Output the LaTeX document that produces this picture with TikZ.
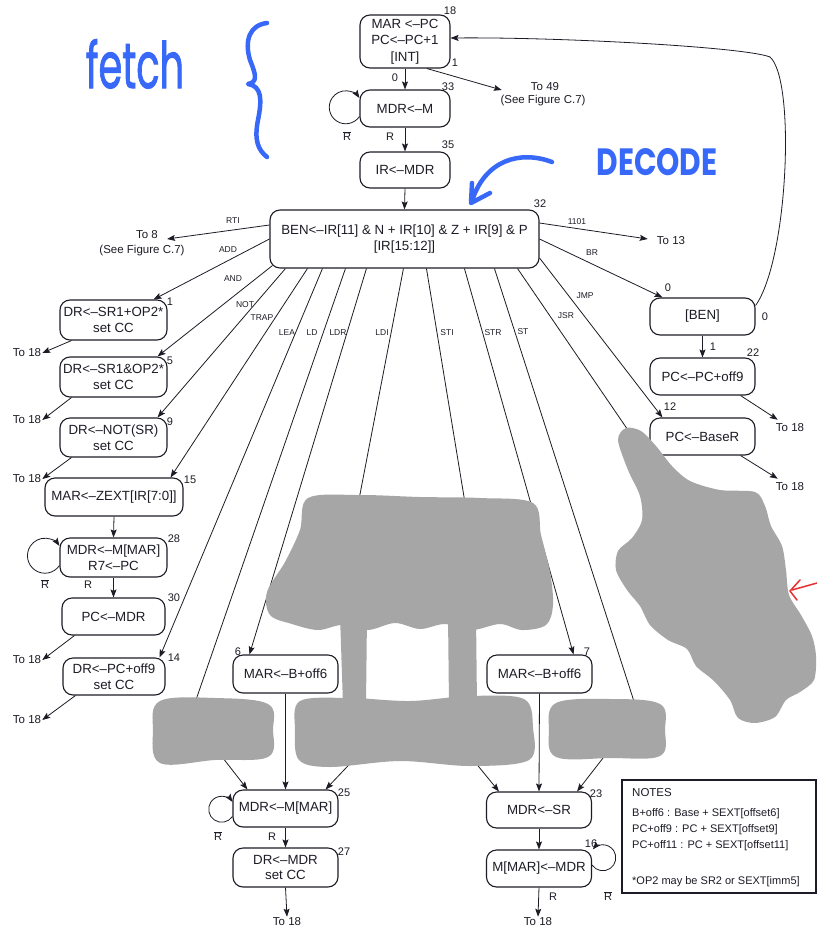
\documentclass[tikz,border=0pt]{standalone}
\usepackage{fontspec}
\usepackage{graphicx}
\setmainfont{Liberation Sans}
\newfontfamily\handfont{Poppins}
\newfontfamily\handfontheavy{Poppins}[FakeBold=1.6]
\usetikzlibrary{arrows.meta,calc}
\definecolor{ink}{RGB}{28,28,38}
\definecolor{smudge}{RGB}{166,166,166}
\definecolor{marker}{RGB}{56,104,248}
\definecolor{redpen}{RGB}{232,48,48}
\tikzset{
  state/.style={draw=ink, line width=1.1pt, rounded corners=10pt, fill=white,
    align=center, inner sep=0pt, text=ink,
    font=\fontsize{13.3}{15.5}\selectfont},
  conn/.style={draw=ink, line width=0.8pt},
  arr/.style={conn, -{Stealth[length=8pt,width=6pt,inset=1.5pt]}},
  num/.style={inner sep=0pt, text=ink, font=\fontsize{11}{11}\selectfont},
  tag/.style={inner sep=0pt, text=ink, font=\fontsize{8.5}{8.5}\selectfont},
  dest/.style={inner sep=1pt, text=ink, font=\fontsize{11.5}{12}\selectfont},
  note/.style={inner sep=0pt, anchor=west, text=ink, font=\fontsize{11}{11}\selectfont},
  smear/.style={fill=smudge, draw=none},
  pen/.style={draw=marker, line width=4.5pt, line cap=round, line join=round},
}
\newcommand{\notR}{$\overline{\mbox{R}}$}
\begin{document}
\begin{tikzpicture}[x=1pt,y=1pt]
\useasboundingbox (0,0) rectangle (817,-930);
\fill[white] (0,0) rectangle (817,-930);

% ---------- fetch and decode states ----------
\node[state, minimum width=90pt, minimum height=53pt, font=\fontsize{13.3}{16.5}\selectfont] (n18) at (405,-41.5) {MAR <--PC\\PC<--PC+1\\{[INT]}};
\node[state, minimum width=90pt, minimum height=37pt] (n33) at (405,-108.5) {MDR<--M};
\node[state, minimum width=90pt, minimum height=36pt] (n35) at (405,-170) {IR<--MDR};
\node[state, minimum width=269pt, minimum height=58pt, font=\fontsize{13.3}{16}\selectfont] (n32) at (404.5,-239) {BEN<--IR[11] \& N + IR[10] \& Z + IR[9] \& P\\{[IR[15:12]]}};

% ---------- left column ----------
\node[state, minimum width=107pt, minimum height=40pt] (n1) at (113.5,-320) {DR<--SR1+OP2*\\set CC};
\node[state, minimum width=107pt, minimum height=40pt] (n5) at (113.5,-377) {DR<--SR1\&OP2*\\set CC};
\node[state, minimum width=107pt, minimum height=39pt] (n9) at (113.5,-437.5) {DR<--NOT(SR)\\set CC};
\node[state, minimum width=138pt, minimum height=38pt] (n15) at (114,-497) {MAR<--ZEXT[IR[7:0]]};
\node[state, minimum width=107pt, minimum height=39pt] (n28) at (113.5,-557.5) {MDR<--M[MAR]\\R7<--PC};
\node[state, minimum width=103pt, minimum height=37pt] (n30) at (113.5,-616.5) {PC<--MDR};
\node[state, minimum width=102pt, minimum height=37pt] (n14) at (114,-676.5) {DR<--PC+off9\\set CC};

% ---------- branch / jump column ----------
\node[state, minimum width=105pt, minimum height=37pt] (nBEN) at (702.5,-316.5) {[BEN]};
\node[state, minimum width=105pt, minimum height=37pt] (n22) at (702.5,-376.5) {PC<--PC+off9};
\node[state, minimum width=105pt, minimum height=37pt] (n12) at (702.5,-436.5) {PC<--BaseR};

% ---------- memory access states ----------
\node[state, minimum width=105pt, minimum height=38pt] (n6) at (285.5,-674) {MAR<--B+off6};
\node[state, minimum width=105pt, minimum height=38pt] (n7) at (539.5,-674) {MAR<--B+off6};
\node[state, minimum width=105pt, minimum height=37pt] (n25) at (285.5,-808.5) {MDR<--M[MAR]};
\node[state, minimum width=105pt, minimum height=39pt] (n27) at (285.5,-867.5) {DR<--MDR\\set CC};
\node[state, minimum width=105pt, minimum height=36pt] (n23) at (539,-810) {MDR<--SR};
\node[state, minimum width=105pt, minimum height=37pt] (n16) at (539,-868.5) {M[MAR]<--MDR};

% ---------- destinations ----------
\node[dest] (t49) at (545,-87) {To 49};
\node[dest] (t49s) at (543,-101) {(See Figure C.7)};
\node[dest] (t8) at (147,-235) {To 8};
\node[dest] (t8s) at (142,-251) {(See Figure C.7)};
\node[dest] (t13) at (671,-241) {To 13};
\node[dest] (t1) at (27,-353) {To 18};
\node[dest] (t5) at (27,-420) {To 18};
\node[dest] (t9) at (27,-479) {To 18};
\node[dest] (t30) at (27,-660) {To 18};
\node[dest] (t14) at (27,-720) {To 18};
\node[dest] (t22) at (790,-428) {To 18};
\node[dest] (t12) at (790,-487) {To 18};
\node[dest] (t27) at (287,-922) {To 18};
\node[dest] (t16) at (538,-922) {To 18};

% ---------- state numbers ----------
\node[num] (k18) at (450,-11) {18};
\node[num] (k18b) at (455,-63) {1};
\node[num] (k18a) at (395,-78) {0};
\node[num] (k33) at (448,-87) {33};
\node[num] (k35) at (448,-145) {35};
\node[num] (k32) at (540,-204) {32};
\node[num] (k1) at (170,-302) {1};
\node[num] (k5) at (170,-361) {5};
\node[num] (k9) at (170,-422) {9};
\node[num] (k15) at (190,-480) {15};
\node[num] (k28) at (174,-539) {28};
\node[num] (k30) at (174,-598) {30};
\node[num] (k14) at (174,-658) {14};
\node[num] (kB0) at (668,-288) {0};
\node[num] (kB1) at (765,-317) {0};
\node[num] (kB2) at (713,-347) {1};
\node[num] (k22) at (753,-353) {22};
\node[num] (k12) at (670,-407) {12};
\node[num] (k6) at (238,-652) {6};
\node[num] (k7) at (587,-652) {7};
\node[num] (k25) at (344,-793) {25};
\node[num] (k27) at (344,-852) {27};
\node[num] (k23) at (596,-794) {23};
\node[num] (k16) at (591,-844) {16};

% ready / not ready conditions
\node[num] (r33) at (390,-137) {R};
\node[num] (q33) at (347,-136) {\notR};
\node[num] (r28) at (88,-585) {R};
\node[num] (q28) at (45,-584) {\notR};
\node[num] (r25) at (272,-837) {R};
\node[num] (q25) at (218,-836) {\notR};
\node[num] (r16) at (553,-897) {R};
\node[num] (q16) at (608,-896) {\notR};

% opcode tags
\node[tag] (gRTI) at (233,-221) {RTI};
\node[tag] (gADD) at (228,-250) {ADD};
\node[tag] (gAND) at (233,-279) {AND};
\node[tag] (gNOT) at (245,-305) {NOT};
\node[tag] (gTRAP) at (262,-318) {TRAP};
\node[tag] (gLEA) at (287,-333) {LEA};
\node[tag] (gLD) at (312,-333) {LD};
\node[tag] (gLDR) at (338,-333) {LDR};
\node[tag] (gLDI) at (382,-333) {LDI};
\node[tag] (gSTI) at (447,-333) {STI};
\node[tag] (gSTR) at (493,-333) {STR};
\node[tag] (gST) at (523,-332) {ST};
\node[tag] (gJSR) at (566,-316) {JSR};
\node[tag] (gJMP) at (585,-296) {JMP};
\node[tag] (gBR) at (592,-253) {BR};
\node[tag] (g1101) at (577,-222) {1101};

% hidden ends of the paths that run under the smudges
\coordinate (ldEnd) at (189,-720);
\coordinate (ldiEnd) at (356,-515);
\coordinate (stiEnd) at (467,-515);
\coordinate (stEnd) at (640,-720);
\coordinate (jsrEnd) at (645,-455);
\coordinate (bOut) at (205,-735);
\coordinate (aOutL) at (363,-750);
\coordinate (aOutR) at (461,-745);
\coordinate (cOut) at (617,-740);

% ---------- connectors ----------
\draw[arr] (n18.south) -- (n33.north);
\draw[arr] ($(n18.south)+(22,0)$) -- ($(t49.west)+(-28,-3)$);
\draw[arr] (n33.south) -- (n35.north);
\draw[arr] (n35.south) -- (n32.north);
\draw[arr] ($(n33.west)+(0,-8)$) arc[start angle=-34, end angle=-326, radius=16.5];

\draw[arr] ($(n32.west)+(0,14)$) -- ($(t8.east)+(8,-4)$);
\draw[arr] (n32.west) -- ($(n1.north east)+(-14,0)$);
\draw[arr] ($(n32.south west)+(3,3)$) -- ($(n5.north east)+(-10,0)$);
\draw[arr] ($(n32.south west)+(16,0)$) -- ($(n9.north east)+(-10,0)$);
\draw[arr] ($(n32.south west)+(38,0)$) -- ($(n15.north east)+(-13,0)$);
\draw[arr] ($(n32.south west)+(53,0)$) -- ($(n14.north east)+(-6,0)$);
\draw[conn] ($(n32.south west)+(76,0)$) -- (ldEnd);
\draw[arr] ($(n32.south west)+(97,0)$) -- ($(n6.north west)+(17,0)$);
\draw[conn] ($(n32.south west)+(134,0)$) -- (ldiEnd);
\draw[conn] ($(n32.south west)+(157,0)$) -- (stiEnd);
\draw[arr] ($(n32.south west)+(195,0)$) -- ($(n7.north east)+(-19,0)$);
\draw[conn] ($(n32.south west)+(225,0)$) -- (stEnd);
\draw[conn] ($(n32.south east)+(-22,0)$) -- (jsrEnd);
\draw[arr] ($(n32.east)+(0,-19)$) -- ($(n12.north west)+(13,0)$);
\draw[arr] (n32.east) -- ($(nBEN.north west)+(13,0)$);
\draw[arr] ($(n32.east)+(0,16)$) -- ($(t13.west)+(-8,2)$);

\draw[arr] ($(n1.south west)+(12,0)$) -- (t1.east);
\draw[arr] ($(n5.south west)+(12,0)$) -- (t5.east);
\draw[arr] ($(n9.south west)+(12,0)$) -- (t9.east);
\draw[arr] (n15.south) -- (n28.north);
\draw[arr] ($(n28.west)+(0,-8)$) arc[start angle=-34, end angle=-326, radius=17.5];
\draw[arr] (n28.south) -- (n30.north);
\draw[arr] ($(n30.south west)+(13,0)$) -- (t30.east);
\draw[arr] ($(n14.south west)+(13,0)$) -- (t14.east);

\draw[arr] (nBEN.south) -- (n22.north);
\draw[arr] ($(n22.south east)+(-15,0)$) -- ($(t22.north west)+(3,3)$);
\draw[arr] ($(n12.south east)+(-15,0)$) -- ($(t12.north west)+(3,3)$);
\draw[arr] ($(nBEN.east)+(0,11)$) .. controls (788,-260) and (796,-80) .. (770,-57)
  .. controls (745,-47) and (560,-37) .. ($(n18.east)+(0,3.5)$);

\draw[arr] (n6.south) -- (n25.north);
\draw[arr] (bOut) -- ($(n25.north west)+(15,0)$);
\draw[arr] (aOutL) -- ($(n25.north east)+(-13,0)$);
\draw[arr] ($(n25.west)+(0,-8)$) arc[start angle=-34, end angle=-326, radius=13];
\draw[arr] (n25.south) -- (n27.north);
\draw[arr] (n27.south) -- (t27.north);

\draw[arr] (n7.south) -- (n23.north);
\draw[arr] (aOutR) -- ($(n23.north west)+(13,0)$);
\draw[arr] (cOut) -- ($(n23.north east)+(-15,0)$);
\draw[arr] (n23.south) -- (n16.north);
\draw[arr] ($(n16.east)+(0,3.5)$) arc[start angle=214, end angle=500, radius=13];
\draw[arr] (n16.south) -- (t16.north);

% ---------- notes box ----------
\node[draw=ink, line width=1.2pt, minimum width=194pt, minimum height=113pt, inner sep=0pt] (notes) at (719,-836.5) {};
\node[note, font=\fontsize{11.5}{11.5}\selectfont] (nt0) at (632,-793) {NOTES};
\node[note] (nt1) at (632,-814) {B+off6 : Base + SEXT[offset6]};
\node[note] (nt2) at (632,-830) {PC+off9 : PC + SEXT[offset9]};
\node[note] (nt3) at (632,-846) {PC+off11 : PC + SEXT[offset11]};
\node[note] (nt4) at (632,-882) {*OP2 may be SR2 or SEXT[imm5]};

% ---------- grey smudges ----------
\fill[smear] plot[smooth cycle, tension=0.55] coordinates {(308,-498) (360,-495) (420,-497) (480,-498) (533,-503) (541,-535) (550,-572) (553,-605) (546,-625) (522,-630) (500,-624) (472,-630) (445,-624) (420,-629) (395,-623) (368,-630) (342,-625) (318,-630) (292,-624) (270,-615) (267,-592) (285,-562) (300,-530)};
\fill[smear, rounded corners=6pt] (340,-615) -- (367,-615) -- (366,-705) -- (343,-705) -- cycle;
\fill[smear, rounded corners=6pt] (448,-615) -- (476,-615) -- (477,-705) -- (449,-705) -- cycle;
\fill[smear] plot[smooth cycle, tension=0.55] coordinates {(300,-701) (350,-698) (410,-701) (470,-696) (524,-699) (533,-728) (529,-760) (470,-766) (400,-761) (330,-767) (299,-760) (295,-730)};
\fill[smear] plot[smooth cycle, tension=0.6] coordinates {(160,-701) (215,-698) (268,-704) (273,-730) (268,-757) (215,-760) (160,-763) (153,-730)};
\fill[smear] plot[smooth cycle, tension=0.6] coordinates {(556,-703) (610,-699) (660,-704) (665,-730) (660,-756) (610,-758) (556,-757) (549,-730)};
\fill[smear] plot[smooth cycle, tension=0.5] coordinates {(618,-440) (626,-428) (641,-431) (656,-446) (672,-466) (690,-481) (720,-490) (755,-492) (765,-506) (771,-526) (782,-546) (786,-570) (789,-595) (801,-615) (812,-636) (816,-656) (814,-680) (800,-692) (786,-700) (775,-717) (755,-723) (738,-718) (730,-700) (714,-681) (696,-666) (687,-649) (668,-640) (650,-625) (640,-606) (627,-590) (616,-570) (618,-551) (632,-538) (642,-520) (640,-496) (628,-470)};

% ---------- pen annotations ----------
\node[text=marker, inner sep=0pt, anchor=base, font=\handfontheavy\fontsize{64}{64}\selectfont] (fetchword) at (135,-88) {\scalebox{0.6}[1]{fetch}};
\draw[pen] (267,-23) .. controls (250,-25) and (244,-40) .. (250,-60)
  .. controls (256,-75) and (258,-82) .. (248,-84)
  .. controls (262,-86) and (262,-100) .. (258,-120)
  .. controls (254,-140) and (258,-150) .. (267,-157);
\node[text=marker, inner sep=0pt, anchor=base, font=\handfont\bfseries\fontsize{38}{38}\selectfont] (decodeword) at (657,-175) {\scalebox{0.78}[1]{DECODE}};
\draw[pen] (552,-162) .. controls (520,-150) and (485,-160) .. (472,-201);
\draw[pen] (472,-183) -- (471,-203) -- (490,-193);
\draw[redpen, line width=1.5pt, line cap=round] (817,-583) -- (792,-590);
\draw[redpen, line width=1.5pt, line cap=round, line join=round] (800,-580) -- (790,-591) -- (797,-600);
\end{tikzpicture}
\end{document}
